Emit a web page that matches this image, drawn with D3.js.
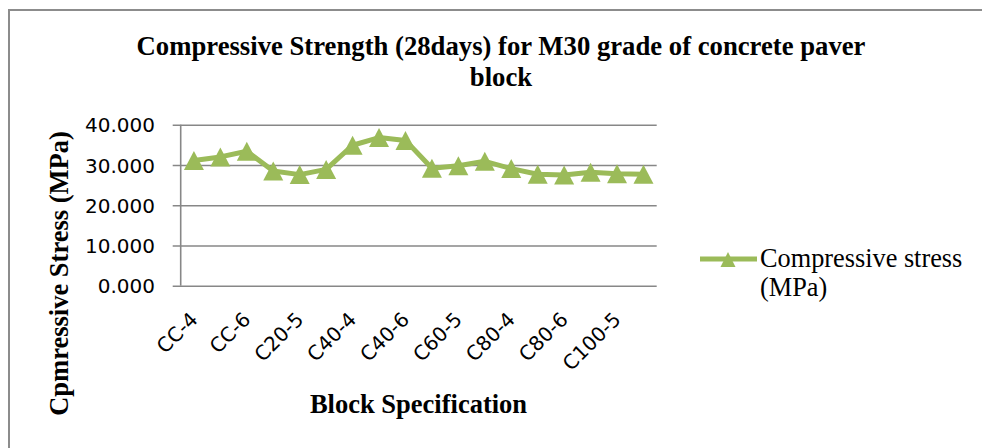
<!DOCTYPE html>
<html>
<head>
<meta charset="utf-8">
<script src="https://cdn.jsdelivr.net/npm/d3@7"></script>
<style>
  body { margin: 0; background: #fff; }
  svg { display: block; }
</style>
</head>
<body>
<div class="chart"></div>
<script>
// 資料
const categories = ['CC-4', 'CC-5', 'CC-6', 'C20-4', 'C20-5', 'C20-6',
  'C40-4', 'C40-5', 'C40-6', 'C60-4', 'C60-5', 'C60-6',
  'C80-4', 'C80-5', 'C80-6', 'C100-4', 'C100-5', 'C100-6']
const stress = [31.1, 32.0, 33.4, 28.5, 27.6, 28.9,
  34.9, 36.8, 36.1, 29.2, 29.8, 30.9,
  29.1, 27.7, 27.5, 28.2, 27.8, 27.7]
const yTicks = [0, 10, 20, 30, 40]
const seriesName = ['Compressive stress', '(MPa)']

const green = '#9bbb59'
const gridColor = '#878787'
const serif = '"Liberation Serif", "Times New Roman", serif'
const sans = '"DejaVu Sans", Verdana, sans-serif'

const svg_width = 982
const svg_height = 448
const plot = { left: 180.7, right: 656.7, top: 124.7, bottom: 285.7 }

const svg = d3.select('.chart').append('svg')
  .attr('width', svg_width).attr('height', svg_height)

// 外框
svg.append('rect')
  .attr('x', 9).attr('y', 10).attr('width', 1200).attr('height', 1200)
  .attr('fill', 'none').attr('stroke', '#8c8c8c').attr('stroke-width', 2)

// scale
const xScale = d3.scaleBand().domain(categories).range([plot.left, plot.right])
const yScale = d3.scaleLinear([0, 40], [plot.bottom, plot.top])

// y 軸 + 格線
const yAxis = d3.axisLeft(yScale).tickValues(yTicks)
  .tickSize(-(plot.right - plot.left)).tickSizeOuter(0)
  .tickFormat(d3.format('.3f'))

const yAxisDraw = svg.append('g')
  .attr('transform', `translate(${plot.left},0)`)
  .call(yAxis)
yAxisDraw.select('.domain').remove()
yAxisDraw.selectAll('.tick line')
  .attr('x1', -8)
  .attr('stroke', gridColor).attr('stroke-width', 1.6)
yAxisDraw.selectAll('.tick text')
  .attr('x', -25.7)
  .attr('dy', '0.36em')
  .style('font-family', sans).style('font-size', '20px').attr('fill', '#000')

// 垂直軸線
svg.append('line')
  .attr('x1', plot.left).attr('x2', plot.left)
  .attr('y1', yScale(40)).attr('y2', yScale(0))
  .attr('stroke', gridColor).attr('stroke-width', 1.6)

// x 軸標籤 (每隔一個)
const xAxis = d3.axisBottom(xScale)
  .tickValues(categories.filter((d, i) => i % 2 === 0))
  .tickSize(0)
const xAxisDraw = svg.append('g')
  .attr('transform', `translate(0,${plot.bottom})`)
  .call(xAxis)
xAxisDraw.select('.domain').remove()
xAxisDraw.selectAll('.tick text')
  .attr('text-anchor', 'end')
  .attr('dy', 0).attr('y', 0)
  .attr('transform', 'translate(5,35) rotate(-45)')
  .style('font-family', sans).style('font-size', '20px').attr('fill', '#000')

// 折線
const cx = (d, i) => xScale(categories[i]) + xScale.bandwidth() / 2
const line = d3.line().x(cx).y(d => yScale(d))

svg.append('path')
  .datum(stress)
  .attr('d', line)
  .attr('fill', 'none')
  .attr('stroke', green).attr('stroke-width', 5)
  .attr('stroke-linejoin', 'round')

function triangle(w, h) {
  return `M0,${-h / 2}L${w / 2},${h / 2}L${-w / 2},${h / 2}Z`
}

svg.append('g').selectAll('path').data(stress).join('path')
  .attr('transform', (d, i) => `translate(${cx(d, i)},${yScale(d)})`)
  .attr('d', triangle(20, 19))
  .attr('fill', green)

// 標題
const title = svg.append('text')
  .attr('text-anchor', 'middle')
  .style('font-family', serif).style('font-size', '26.7px').style('font-weight', 'bold')
title.append('tspan').attr('x', 501).attr('y', 55)
  .text('Compressive Strength (28days) for M30 grade of concrete paver')
title.append('tspan').attr('x', 501).attr('y', 86).text('block')

// 軸標題
svg.append('text')
  .attr('text-anchor', 'middle')
  .attr('transform', 'translate(68,273.5) rotate(-90)')
  .style('font-family', serif).style('font-size', '26.5px').style('font-weight', 'bold')
  .text('Cpmressive Stress (MPa)')

svg.append('text')
  .attr('x', 418.5).attr('y', 413)
  .attr('text-anchor', 'middle')
  .style('font-family', serif).style('font-size', '26.5px').style('font-weight', 'bold')
  .text('Block Specification')

// 圖例
const legend = svg.append('g').attr('transform', 'translate(700,259)')
legend.append('line')
  .attr('x1', 0).attr('x2', 57).attr('y1', 0).attr('y2', 0)
  .attr('stroke', green).attr('stroke-width', 5)
legend.append('path')
  .attr('transform', 'translate(28,0.5)')
  .attr('d', triangle(15, 15))
  .attr('fill', green)
const legendText = legend.append('text')
  .style('font-family', serif).style('font-size', '26.3px')
legendText.selectAll('tspan').data(seriesName).join('tspan')
  .attr('x', 60).attr('y', (d, i) => 8.3 + i * 29)
  .text(d => d)
</script>
</body>
</html>
